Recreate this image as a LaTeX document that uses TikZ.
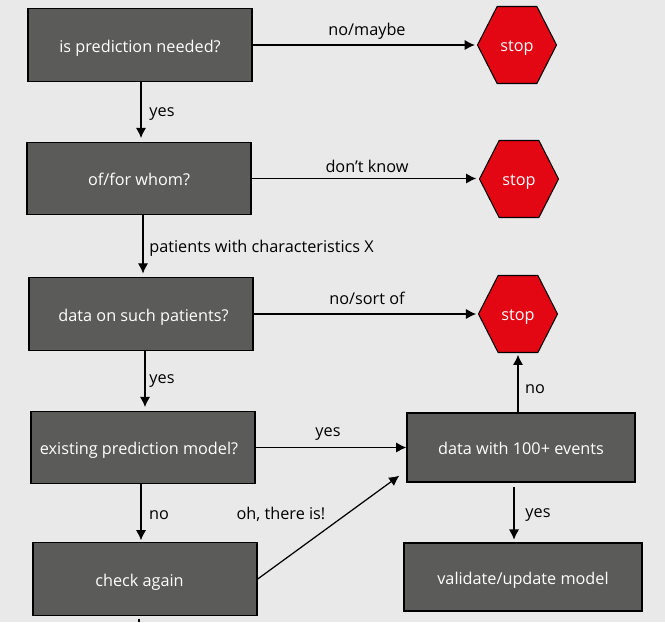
\documentclass[tikz,border=0pt]{standalone}
\usepackage{fontspec}
\setmainfont{Open Sans}
\usetikzlibrary{arrows.meta,shapes.symbols}
\definecolor{pagegray}{HTML}{E9E9E9}
\definecolor{boxgray}{HTML}{5B5B5A}
\definecolor{stopred}{HTML}{E30613}
\tikzset{
  flowbox/.style={draw=black,line width=0.8pt,fill=boxgray,text=white,inner sep=0pt,minimum width=4.48cm,minimum height=1.45cm,text height=9pt,text depth=1pt,font=\fontsize{9.25}{11}\selectfont},
  stopbox/.style={signal,signal to=east and west,signal pointer angle=126,draw=black,line width=0.6pt,fill=stopred,text=white,inner sep=0pt,minimum width=1.58cm,minimum height=1.54cm,text height=8.5pt,text depth=1pt,font=\fontsize{9.25}{11}\selectfont},
  answer/.style={inner sep=0pt,text=black,text height=9pt,text depth=1pt,font=\fontsize{9.25}{11}\selectfont},
  flow/.style={->,>={Latex[length=5.8pt,width=5.8pt]},line width=0.7pt}
}
\begin{document}
\begin{tikzpicture}[x=0.02cm,y=-0.02cm]
\useasboundingbox (0,0) rectangle (665,622);
\fill [pagegray] (0,0) rectangle (665,622);

\node [flowbox] (pred) at (140,45) {is prediction needed?};
\node [flowbox] (whom) at (139,178.5) {of/for whom?};
\node [flowbox] (data) at (141,314) {\hspace{0.10cm}data on such patients?};
\node [flowbox] (exist) at (143,447.5) {\hspace{-0.16cm}existing prediction model?};
\node [flowbox] (check) at (145,579) {\hspace{-0.22cm}check again};
\node [flowbox,minimum width=4.56cm,minimum height=1.38cm] (events) at (521,447.5) {data with 100+ events};
\node [flowbox,minimum width=4.76cm,minimum height=1.36cm] (valid) at (523,577) {validate/update model};
\node [stopbox] (stopa) at (517,45) {stop};
\node [stopbox] (stopb) at (519,179) {stop};
\node [stopbox] (stopc) at (518,314) {stop};
\coordinate (stub) at (139,622);

\draw [flow,shorten >=1.2pt] (pred.east) -- (stopa.west);
\draw [flow,shorten >=1.5pt] (whom.east) -- (whom.east -| stopb.west);
\draw [flow,shorten >=1pt] (data.east) -- (stopc.west);
\draw [flow] (exist.east) -- (events.west |- exist.east);
\draw [flow,shorten >=2pt] ([xshift=0.02cm]pred.south) -- ([xshift=0.02cm]pred.south |- whom.north);
\draw [flow,shorten >=2pt] ([xshift=0.08cm]whom.south) -- ([xshift=0.08cm]whom.south |- data.north);
\draw [flow,shorten >=2pt] ([xshift=0.08cm]data.south) -- ([xshift=0.08cm]data.south |- exist.north);
\draw [flow,shorten >=1pt] ([xshift=-0.04cm]exist.south) -- ([xshift=-0.04cm]exist.south |- check.north);
\draw [flow] (check.east) -- ([xshift=-0.14cm,yshift=0.14cm]events.south west);
\draw [flow,shorten <=2.5pt,shorten >=1.5pt] ([xshift=-0.14cm]events.south) -- ([xshift=-0.14cm]events.south |- valid.north);
\draw [flow,shorten >=1pt] (stopc.south |- events.north) -- (stopc.south);
\draw [line width=0.7pt,shorten <=2pt] (stub |- check.south) -- (stub);

\node [answer] (lnomaybe) at (367,28) {no/maybe};
\node [answer] (lyesa) at (162,109) {yes};
\node [answer] (ldont) at (367,165) {don’t know};
\node [answer,anchor=west] (lpat) at (149,245) {patients with characteristics X};
\node [answer] (lsort) at (367,297) {no/sort of};
\node [answer] (lyesb) at (162,376) {yes};
\node [answer] (lyesc) at (328,429) {yes};
\node [answer] (lnoa) at (159,512) {no};
\node [answer] (loh) at (281,512) {oh, there is!};
\node [answer] (lyesd) at (538,510) {yes};
\node [answer] (lnob) at (535,386) {no};
\end{tikzpicture}
\end{document}
